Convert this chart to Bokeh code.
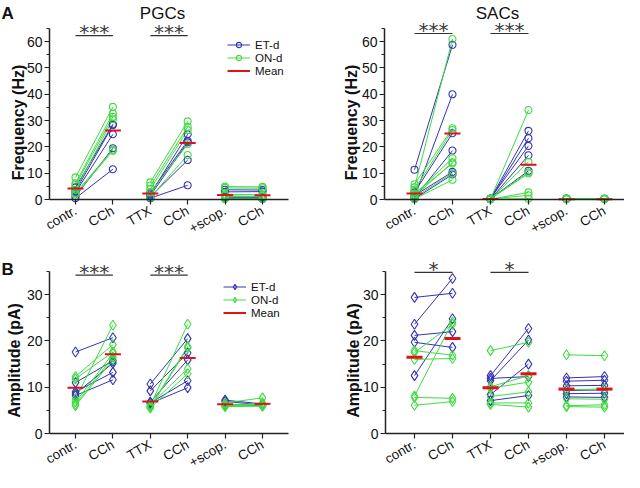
import math
from bokeh.plotting import figure
from bokeh.layouts import column, row
from bokeh.models import FixedTicker, Label, Legend, LegendItem, Range1d
from bokeh.embed import file_html
from bokeh.resources import INLINE

# ---------------- data ----------------
CATEGORIES = ["contr.", "CCh", "TTX", "CCh", "+scop.", "CCh"]

# Each list: 3 experiments (contr.->CCh, TTX->CCh, +scop.->CCh), each a list of (before, after) cell pairs
# A, PGCs, frequency (Hz)
PGC_FREQ_ET = [
    [(4.6, 28.6), (3.2, 28.3), (2.7, 24.8), (1.2, 19.5), (0.5, 11.5)],
    [(2.0, 24.8), (2.5, 22.3), (1.5, 21.7), (1.0, 15.0), (0.5, 5.4)],
    [(3.7, 3.6), (2.9, 3.0), (1.0, 0.9), (0.8, 0.6), (0.3, 0.2)],
]
PGC_FREQ_ON = [
    [(8.4, 35.2), (6.2, 32.7), (5.5, 31.4), (3.7, 30.5), (2.5, 18.9), (1.9, 18.5)],
    [(6.5, 29.7), (5.2, 27.6), (3.9, 26.4), (2.7, 21.0), (0.8, 16.9)],
    [(4.9, 4.8), (4.4, 4.3), (2.0, 1.8), (1.4, 1.2), (0.6, 0.4), (0.2, 0.3)],
]
PGC_FREQ_MEAN = [(4.2, 26.2), (2.3, 21.5), (1.7, 1.6)]

# A, SACs, frequency (Hz)
SAC_FREQ_ET = [
    [(11.3, 58.8), (1.0, 40.0), (2.7, 25.2), (0.6, 18.6), (1.5, 10.5), (0.3, 9.5)],
    [(0.3, 26.1), (0.2, 23.3), (0.4, 20.4), (0.1, 16.8), (0.3, 10.9)],
    [(0.3, 0.3), (0.2, 0.2), (0.4, 0.3)],
]
SAC_FREQ_ON = [
    [(4.6, 61.0), (5.8, 27.1), (3.7, 26.4), (1.9, 15.7), (1.2, 14.1), (2.2, 13.7), (0.8, 10.0), (0.2, 7.5)],
    [(0.2, 34.0), (0.1, 14.3), (0.3, 10.3), (0.2, 9.9), (0.1, 2.7), (0.2, 1.6), (0.1, 0.3)],
    [(0.3, 0.4), (0.2, 0.2), (0.4, 0.3), (0.1, 0.1)],
]
SAC_FREQ_MEAN = [(2.3, 25.1), (0.2, 13.2), (0.1, 0.1)]

# B, PGCs, amplitude (pA)
PGC_AMP_ET = [
    [(17.6, 20.7), (11.0, 15.7), (9.0, 13.2), (8.2, 11.6), (8.6, 15.2)],
    [(10.7, 20.5), (9.2, 17.4), (6.8, 15.9), (6.6, 11.4), (6.5, 9.9)],
    [(7.2, 6.4), (6.9, 6.2), (6.3, 6.0)],
]
PGC_AMP_ON = [
    [(12.3, 19.2), (11.8, 17.6), (7.5, 23.4), (6.8, 17.3), (6.3, 16.5), (6.0, 16.0)],
    [(6.0, 23.6), (5.8, 18.8), (5.6, 18.5), (6.2, 14.0), (5.5, 12.9)],
    [(6.6, 7.7), (6.0, 6.6), (5.8, 5.9), (6.2, 6.1), (5.9, 6.3)],
]
PGC_AMP_MEAN = [(9.9, 17.1), (6.9, 16.3), (6.3, 6.4)]

# B, SACs, amplitude (pA)
SAC_AMP_ET = [
    [(29.4, 30.3), (23.6, 33.5), (21.2, 22.0), (19.7, 18.6), (12.5, 24.8)],
    [(12.5, 22.7), (11.4, 20.2), (11.9, 12.3), (8.4, 15.0), (7.1, 8.2)],
    [(12.0, 12.3), (11.3, 11.5), (10.3, 10.4), (9.3, 9.4), (8.6, 8.7), (7.9, 7.8)],
]
SAC_AMP_ON = [
    [(17.9, 16.9), (16.0, 16.2), (8.1, 24.1), (17.5, 23.6), (7.8, 7.6), (6.1, 6.9)],
    [(17.9, 19.7), (10.1, 12.5), (9.8, 11.1), (8.0, 9.0), (6.6, 6.6), (6.3, 5.7)],
    [(17.0, 16.8), (9.5, 9.6), (7.5, 7.4), (6.0, 6.2), (5.8, 5.7)],
]
SAC_AMP_MEAN = [(16.5, 20.5), (9.9, 12.9), (9.6, 9.6)]

# significance: (text, bracket height) for contr.->CCh and TTX->CCh
PGC_FREQ_SIG = [("***", 62.3), ("***", 62.3)]
SAC_FREQ_SIG = [("***", 63.1), ("***", 63.1)]
PGC_AMP_SIG = [("***", 34.2), ("***", 34.2)]
SAC_AMP_SIG = [("*", 34.8), ("*", 34.8)]

FREQ_TICKS = [0, 10, 20, 30, 40, 50, 60]
AMP_TICKS = [0, 10, 20, 30]
FREQ_MAX = 65
AMP_MAX = 35

# ---------------- style ----------------
BLUE = "#3434b4"
GREEN = "#40dc40"
RED = "#e3101a"
AXIS = "#222222"
TXT = "#111111"
FONT = "Liberation Sans"


class Geo:
    """maps page pixels to data units for one panel"""
    def __init__(self, left, top, w, h, cat1_px, step_px, zero_px, unit_px):
        self.left, self.top, self.w, self.h = left, top, w, h
        self.cat1_px, self.step_px = cat1_px, step_px
        self.zero_px, self.unit_px = zero_px, unit_px

    def x(self, px):
        return 1 + (px - self.cat1_px) / self.step_px

    def y(self, py):
        return (self.zero_px - py) / self.unit_px


def make_panel(g, et, on, means, sig, marker, msize, ymax, ticks,
               ylabel, ylabel_px, axis_px, xend_px, mean_w, legend_pos=None,
               title=None, title_px=None, letter=None, letter_px=None):
    p = figure(width=g.w, height=g.h, output_backend="svg", toolbar_location=None,
               title=None,
               x_range=Range1d(g.x(g.left), g.x(g.left + g.w)),
               y_range=Range1d(g.y(g.top + g.h), g.y(g.top)),
               min_border_left=0, min_border_right=0, min_border_top=0, min_border_bottom=0)
    p.outline_line_color = None
    p.grid.visible = False

    x_axis_loc = g.x(axis_px)
    # axes
    xa = p.xaxis[0]
    ya = p.yaxis[0]
    xa.fixed_location = 0
    xa.bounds = (x_axis_loc, g.x(xend_px))
    xa.ticker = FixedTicker(ticks=[1, 2, 3, 4, 5, 6])
    xa.major_label_overrides = {i + 1: c for i, c in enumerate(CATEGORIES)}
    xa.major_label_orientation = math.pi / 6
    ya.fixed_location = x_axis_loc
    ya.bounds = (0, ymax)
    step = ticks[1] - ticks[0]
    ya.ticker = FixedTicker(ticks=ticks, minor_ticks=[t + step / 2 for t in ticks])
    for ax in (xa, ya):
        ax.axis_line_color = AXIS
        ax.axis_line_width = 1.5
        ax.major_tick_line_color = AXIS
        ax.major_tick_line_width = 1.2
        ax.major_tick_out = 5
        ax.major_tick_in = 0
        ax.minor_tick_out = 3
        ax.minor_tick_in = 0
        ax.minor_tick_line_color = AXIS
        ax.major_label_text_font = FONT
        ax.major_label_text_color = TXT
        ax.major_label_standoff = 2
    xa.minor_tick_line_color = None
    xa.major_label_text_font_size = "13.5px"
    xa.major_label_standoff = 5
    ya.major_label_text_font_size = "14px"

    p.add_layout(Label(x=g.x(ylabel_px[0]), y=g.y(ylabel_px[1]), text=ylabel, angle=math.pi / 2,
                       text_align="center", text_baseline="middle", text_font=FONT,
                       text_font_style="bold", text_font_size="16px", text_color=TXT))

    line_r = {}
    scat_r = {}
    groups = ((et, BLUE, "et"), (on, GREEN, "on"))
    for k in range(3):
        x0, x1 = 2 * k + 1, 2 * k + 2
        for pairs, color, key in groups:
            xs = [[x0, x1] for _ in pairs[k]]
            ys = [[a, b] for a, b in pairs[k]]
            r = p.multi_line(xs, ys, line_color=color, line_width=1)
            line_r.setdefault(key, r)
    for k in range(3):
        x0, x1 = 2 * k + 1, 2 * k + 2
        for pairs, color, key in groups:
            n = len(pairs[k])
            r = p.scatter(x=[x0] * n + [x1] * n,
                          y=[a for a, b in pairs[k]] + [b for a, b in pairs[k]],
                          marker=marker, size=msize, line_color=color,
                          fill_color="white", fill_alpha=0.0, line_width=1.1)
            scat_r.setdefault(key, r)
    # means
    mx, my = [], []
    for k, (a, b) in enumerate(means):
        mx += [2 * k + 1, 2 * k + 2]
        my += [a, b]
    half = 8 / g.step_px
    mean_r = p.segment(x0=[x - half for x in mx], x1=[x + half for x in mx],
                       y0=my, y1=my, line_color=RED, line_width=mean_w)

    # significance brackets
    for k, (txt, bar_y) in enumerate(sig):
        x0, x1 = 2 * k + 1, 2 * k + 2
        p.segment(x0=[x0], x1=[x1], y0=[bar_y], y1=[bar_y], line_color="#333333", line_width=1.2)
        p.add_layout(Label(x=(x0 + x1) / 2, y=bar_y + 3.5 / g.unit_px, text=txt,
                           text_align="center", text_baseline="alphabetic",
                           text_font="DejaVu Sans", text_font_size="20px",
                           text_color="#3a3a3a"))

    if legend_pos:
        items = [LegendItem(label="ET-d", renderers=[line_r["et"], scat_r["et"]]),
                 LegendItem(label="ON-d", renderers=[line_r["on"], scat_r["on"]]),
                 LegendItem(label="Mean", renderers=[mean_r])]
        lg = Legend(items=items, location=(legend_pos[0] - g.left, g.top + g.h - legend_pos[1]),
                    margin=0, padding=2, spacing=0,
                    glyph_width=23, glyph_height=13, label_height=13, label_standoff=5,
                    label_text_font=FONT, label_text_font_size="11.5px",
                    label_text_color=TXT,
                    border_line_color=None, background_fill_alpha=0)
        p.add_layout(lg)

    if title:
        p.add_layout(Label(x=g.x(title_px[0]), y=g.y(title_px[1]), text=title, text_align="center",
                           text_baseline="alphabetic", text_font=FONT, text_font_size="17px",
                           text_color=TXT))
    if letter:
        p.add_layout(Label(x=g.x(letter_px[0]), y=g.y(letter_px[1]), text=letter, text_align="left",
                           text_baseline="alphabetic", text_font=FONT, text_font_style="bold",
                           text_font_size="17px", text_color=TXT))
    return p


# page geometry of the four panels (page pixels)
GA_L = Geo(8, 8, 312, 236, 83, 37.4, 207, 171 / 65)
GA_R = Geo(320, 8, 312, 236, 422, 38.0, 207, 171 / 65)
GB_L = Geo(8, 244, 312, 236, 83, 37.4, 441, 162 / 35)
GB_R = Geo(320, 244, 312, 236, 422, 38.0, 441, 162 / 35)

p1 = make_panel(GA_L, PGC_FREQ_ET, PGC_FREQ_ON, PGC_FREQ_MEAN, PGC_FREQ_SIG, "circle", 7,
                FREQ_MAX, FREQ_TICKS, "Frequency (Hz)", (26, 130), 57, 296, 2,
                legend_pos=(235, 85), title="PGCs", title_px=(170, 21),
                letter="A", letter_px=(9, 21))
p2 = make_panel(GA_R, SAC_FREQ_ET, SAC_FREQ_ON, SAC_FREQ_MEAN, SAC_FREQ_SIG, "circle", 7,
                FREQ_MAX, FREQ_TICKS, "Frequency (Hz)", (359, 130), 392, 632, 2,
                title="SACs", title_px=(505, 21))
p3 = make_panel(GB_L, PGC_AMP_ET, PGC_AMP_ON, PGC_AMP_MEAN, PGC_AMP_SIG, "diamond", 10,
                AMP_MAX, AMP_TICKS, "Amplitude (pA)", (22, 368), 57, 296, 2,
                legend_pos=(231, 327), letter="B", letter_px=(9, 277))
p4 = make_panel(GB_R, SAC_AMP_ET, SAC_AMP_ON, SAC_AMP_MEAN, SAC_AMP_SIG, "diamond", 10,
                AMP_MAX, AMP_TICKS, "Amplitude (pA)", (361, 368), 393, 632, 3)

layout = column(row(p1, p2), row(p3, p4))
open("out.html", "w").write(file_html(layout, INLINE))
